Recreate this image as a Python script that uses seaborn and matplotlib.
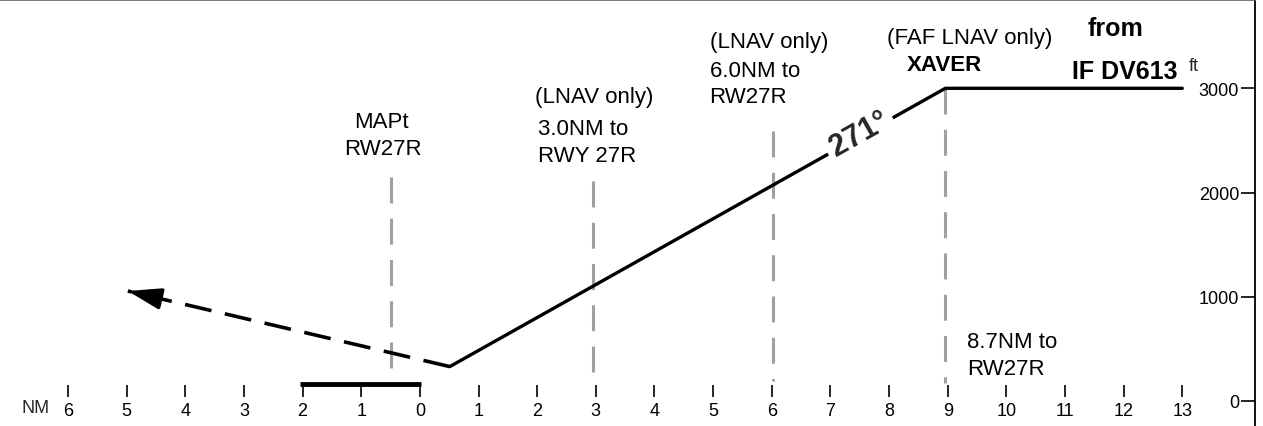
#!/usr/bin/env python3
# -*- coding: utf-8 -*-

import numpy as np
import pandas as pd
import seaborn as sns
import matplotlib.pyplot as plt

# vertical profile, NM from threshold (negative = past the threshold), ft
path_nm = [0.51, 8.96, 13.0]
path_ft = [330, 3000, 3000]
missed_nm = [0.51, -4.98]
missed_ft = [330, 1055]
runway_nm = [-2.05, 0.02]
runway_ft = [160, 160]

# fixes shown as grey dashed verticals
fix_names = ['MAPt', 'LNAV 3.0', 'LNAV 6.0', 'XAVER']
fix_nm = [-0.5, 2.95, 6.02, 8.96]
fix_top_ft = [2150, 2110, 2590, 3000]
fix_bot_ft = [230, 200, 190, 170]

nm_ticks = list(range(-6, 14))
ft_ticks = [0, 1000, 2000, 3000]
course = '271°'

# text, x, y, ha, weight, size
labels = [
    ('MAPt', -0.65, 2629, 'center', 'normal', 16),
    ('RW27R', -0.63, 2370, 'center', 'normal', 16),
    ('(LNAV only)', 1.96, 2869, 'left', 'normal', 16),
    ('3.0NM to', 2.01, 2562, 'left', 'normal', 16),
    ('RWY 27R', 2.01, 2303, 'left', 'normal', 16),
    ('(LNAV only)', 4.94, 3396, 'left', 'normal', 16),
    ('6.0NM to', 4.94, 3118, 'left', 'normal', 16),
    ('RW27R', 4.94, 2869, 'left', 'normal', 16),
    ('(FAF LNAV only)', 7.96, 3435, 'left', 'normal', 16),
    ('XAVER', 8.30, 3176, 'left', 'bold', 16),
    ('from', 11.39, 3511, 'left', 'bold', 18),
    ('IF DV613', 12.91, 3099, 'right', 'bold', 18),
    ('8.7NM to', 9.33, 518, 'left', 'normal', 16),
    ('RW27R', 9.33, 259, 'left', 'normal', 16),
]


def main():
    sns.set_theme(style='white')
    plt.rcParams['font.family'] = ['Liberation Sans', 'DejaVu Sans']

    fig = plt.figure(figsize=(12.63, 4.27), dpi=100)
    ax = fig.add_axes([0, 0, 1255 / 1263, 1 - 0.5 / 427])
    ax.set_xlim(-7.16, 14.24)
    ax.set_ylim(-240, 3852)

    # fixes
    fixes = pd.DataFrame({
        'fix': fix_names * 2,
        'nm': fix_nm * 2,
        'ft': fix_top_ft + fix_bot_ft,
    })
    sns.lineplot(data=fixes, x='nm', y='ft', units='fix', estimator=None,
                 sort=False, color='#a0a0a0', lw=2.2,
                 linestyle=(0, (8.5, 5)), ax=ax)

    # runway
    sns.lineplot(x=runway_nm, y=runway_ft, color='black', lw=3.5,
                 solid_capstyle='butt', ax=ax)

    # final approach path
    sns.lineplot(x=path_nm, y=path_ft, sort=False, color='black', lw=2.4,
                 ax=ax)

    # missed approach
    sns.lineplot(x=missed_nm, y=missed_ft, sort=False, color='black',
                 lw=2.6, linestyle=(0, (7.5, 3.8)), ax=ax)
    d = np.array([missed_nm[1] - missed_nm[0], missed_ft[1] - missed_ft[0]])
    back = np.array([missed_nm[1], missed_ft[1]]) - 0.08 * d
    ax.annotate('', xy=(missed_nm[1], missed_ft[1]), xytext=tuple(back),
                arrowprops=dict(arrowstyle='-|>,head_length=1.0,head_width=0.32',
                                mutation_scale=20, color='black', lw=2.6,
                                shrinkA=0, shrinkB=0))

    # course label along the descent
    p0 = ax.transData.transform((path_nm[0], path_ft[0]))
    p1 = ax.transData.transform((path_nm[1], path_ft[1]))
    ang = np.degrees(np.arctan2(p1[1] - p0[1], p1[0] - p0[0]))
    ax.text(7.49, 2565, course, rotation=ang, rotation_mode='anchor',
            ha='center', va='center', fontsize=22, fontweight='bold',
            bbox=dict(facecolor='white', edgecolor='none', pad=4))

    for txt, x, y, ha, wt, fs in labels:
        ax.text(x, y, txt, ha=ha, va='baseline', fontsize=fs,
                fontweight=wt, color='black')

    ax.text(13.2, 3176, 'ft', ha='center', va='baseline', fontsize=13)
    ax.text(-6.56, -62, 'NM', ha='center', va='center', fontsize=13)

    # axes
    ax.set_xticks(nm_ticks)
    ax.set_xticklabels([str(abs(t)) for t in nm_ticks])
    ax.spines['bottom'].set_position(('data', 38))
    ax.spines['bottom'].set_visible(False)
    ax.spines['left'].set_visible(False)
    ax.spines['top'].set_color('#606060')
    ax.spines['top'].set_linewidth(1.2)
    ax.spines['right'].set_color('black')
    ax.spines['right'].set_linewidth(1.3)
    ax.tick_params(axis='x', direction='in', length=8.6, width=1.2,
                   pad=3.6, labelsize=13, colors='black', bottom=True)

    ax.yaxis.tick_right()
    ax.set_yticks(ft_ticks)
    ax.tick_params(axis='y', direction='in', length=10, width=1.2,
                   pad=-11.5, labelsize=13, colors='black', right=True)
    for t in ax.get_yticklabels():
        t.set_horizontalalignment('right')

    ax.set_xlabel('')
    ax.set_ylabel('')
    fig.savefig('out.png', dpi=100)


if __name__ == '__main__':
    main()
